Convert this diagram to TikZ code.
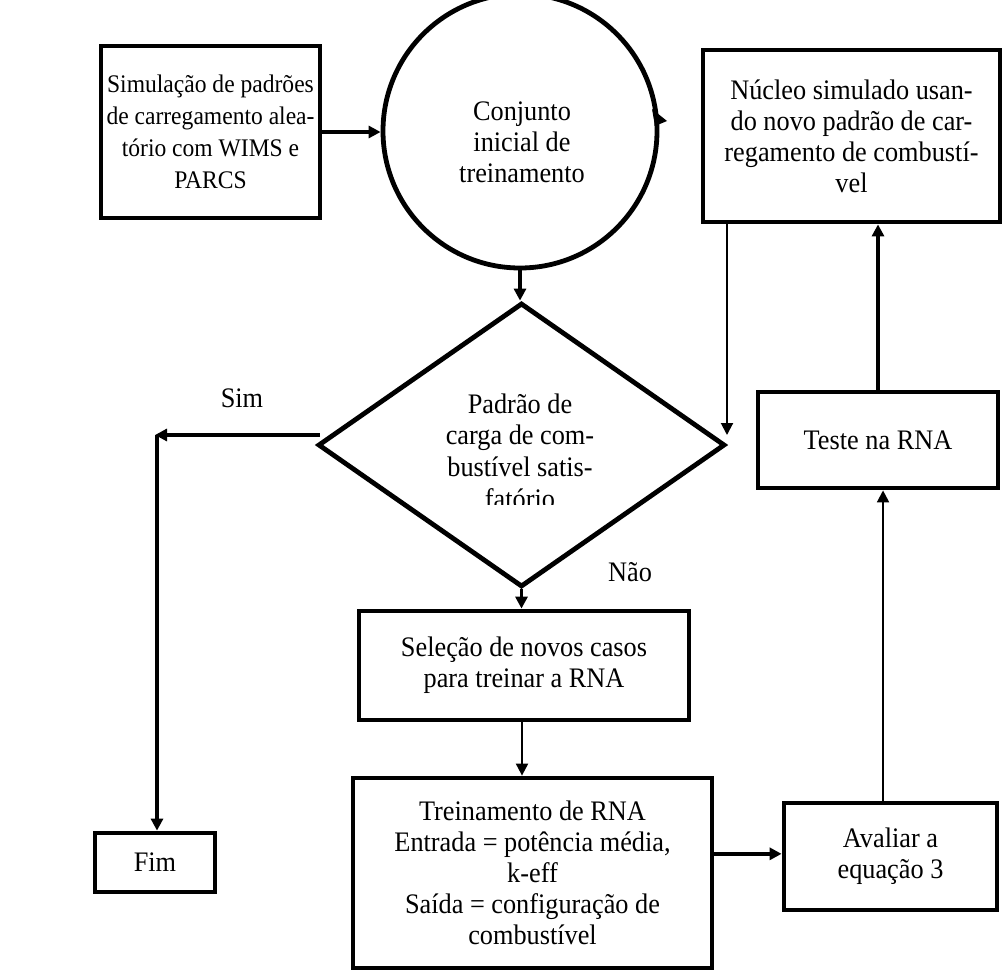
\documentclass[tikz,border=0pt]{standalone}
\usepackage{fontspec}
\setmainfont[FakeStretch=0.93]{Liberation Serif}
\usetikzlibrary{shapes.geometric,arrows.meta}
\newcommand\fsz{\fontsize{21.2pt}{23.3pt}\selectfont}
\newcommand\fszs{\fontsize{19pt}{24pt}\selectfont}
\tikzset{
  boxs/.style={draw, line width=3.6pt, inner sep=0pt, align=center, font=\fsz},
  lbl/.style={inner sep=0pt, align=center, font=\fsz},
  thickarr/.style={line width=2.6pt, -{Triangle[length=9pt,width=9pt]}},
  thinarr/.style={line width=1.5pt, -{Triangle[length=9pt,width=9pt]}},
}
\begin{document}
\begin{tikzpicture}[x=0.75pt,y=-0.75pt]
\useasboundingbox (0,0) rectangle (1002,974);
% shapes
\node[boxs, font=\fszs, minimum width=219*0.75pt, minimum height=172*0.75pt] (sim) at (210.5,132)
  {Simulação de padrões\\de carregamento alea-\\tório com WIMS e\\PARCS};
\node[draw, circle, line width=3.6pt, inner sep=0pt, minimum size=274*0.75pt] (circ) at (520,131) {};
\node[lbl] (circtxt) at (522,142) {Conjunto\\inicial de\\treinamento};
\node[boxs, minimum width=297*0.75pt, minimum height=172*0.75pt] (nuc) at (851.5,136)
  {Núcleo simulado usan-\\do novo padrão de car-\\regamento de combustí-\\vel};
\node[draw, diamond, line width=3.6pt, inner sep=0pt, minimum width=407*0.75pt, minimum height=284*0.75pt] (dia) at (521.5,445) {};
\begin{scope}
  \clip (380,370) rectangle (660,504);
  \node[lbl, font=\fontsize{21.2pt}{23.8pt}\selectfont] (diatxt) at (520,451) {Padrão de\\carga de com-\\bustível satis-\\fatório};
\end{scope}
\node[boxs, minimum width=330*0.75pt, minimum height=109*0.75pt] (sel) at (524,665.5)
  {Seleção de novos casos\\para treinar a RNA};
\node[boxs, minimum width=359*0.75pt, minimum height=190*0.75pt] (tre) at (532.5,873)
  {Treinamento de RNA\\Entrada = potência média,\\k-eff\\Saída = configuração de\\combustível};
\node[boxs, minimum width=213*0.75pt, minimum height=107*0.75pt] (ava) at (890.5,856.5)
  {Avaliar a\\equação 3};
\node[boxs, minimum width=240*0.75pt, minimum height=96*0.75pt] (tes) at (878,440)
  {Teste na RNA};
\node[boxs, minimum width=120*0.75pt, minimum height=59*0.75pt] (fim) at (155,862.5)
  {Fim};
% labels
\node[lbl] (sim-l) at (242,398) {Sim};
\node[lbl] (nao-l) at (630,572) {Não};
% small arrow tip on the circle
\fill (652,109) -- (667,121) -- (655,126) -- cycle;
% coordinates
\coordinate (simstart) at (320,435);
\coordinate (corner) at (155,435);
\coordinate (nucin) at (727,435);
% connectors
\draw[thickarr] (sim.east) -- (sim.east -| circ.west);
\draw[thickarr] (circ.south) -- (circ.south |- dia.north);
\draw[thickarr] (simstart) -- (corner);
\draw[thickarr] ([xshift=1.5pt]corner) -- ([xshift=1.5pt]corner |- fim.north);
\draw[thickarr] (dia.south) -- (dia.south |- sel.north);
\draw[thinarr] ([xshift=-1.5pt]sel.south) -- ([xshift=-1.5pt]sel.south |- tre.north);
\draw[thickarr] ([yshift=2pt]ava.west -| tre.east) -- ([yshift=2pt]ava.west);
\draw[thinarr] ([xshift=-5.6pt]ava.north) -- ([xshift=-5.6pt]ava.north |- tes.south);
\draw[thickarr] (tes.north) -- (tes.north |- nuc.south);
\draw[thinarr] (nuc.south -| nucin) -- (nucin);
\end{tikzpicture}
\end{document}
